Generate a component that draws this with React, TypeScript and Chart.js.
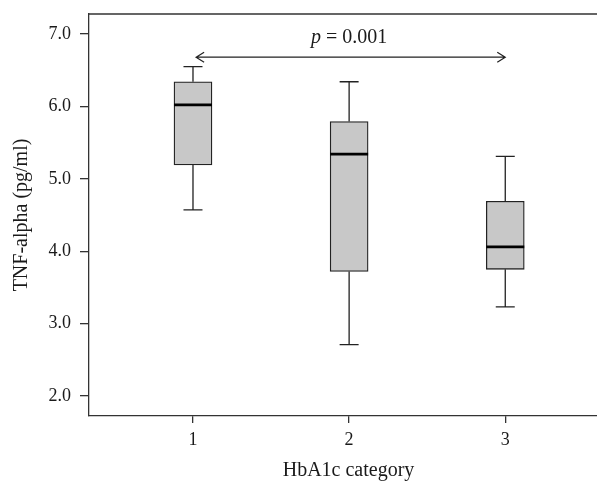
import React, { useEffect, useRef } from "react";
import { Chart, registerables } from "chart.js";

Chart.register(...registerables);

const categories = [1, 2, 3];
const whiskerLow = [4.57, 2.71, 3.23];
const q1 = [5.19, 3.72, 3.75];
const median = [6.02, 5.34, 4.06];
const q3 = [6.34, 5.79, 4.69];
const whiskerHigh = [6.55, 6.34, 5.31];
const yTicks = [2, 3, 4, 5, 6, 7];
const xTicks = [1, 2, 3];
const arrowFrom = 1.02;
const arrowTo = 3.0;
const arrowLevel = 6.68;
const pLabelX = 2.0;
const pValue = "0.001";

const FONT = "'Liberation Serif', 'Times New Roman', serif";
const INK = "#222222";

const boxPlugin = {
  id: "boxExtras",
  afterDatasetsDraw(chart: any) {
    const { ctx, chartArea, scales } = chart;
    const xs = scales.x;
    const ys = scales.y;
    const meta = chart.getDatasetMeta(0);
    ctx.save();
    ctx.strokeStyle = "#333333";
    ctx.lineWidth = 1.3;
    ctx.beginPath();
    ctx.moveTo(chartArea.left, chartArea.top);
    ctx.lineTo(chartArea.right, chartArea.top);
    ctx.lineTo(chartArea.right, chartArea.bottom);
    ctx.stroke();

    categories.forEach((c, i) => {
      const bar = meta.data[i];
      const w = bar ? bar.width : 38;
      const cx = xs.getPixelForValue(c);
      const cap = w / 4;
      ctx.strokeStyle = INK;
      ctx.lineWidth = 1.3;
      ctx.beginPath();
      ctx.moveTo(cx, ys.getPixelForValue(q3[i]));
      ctx.lineTo(cx, ys.getPixelForValue(whiskerHigh[i]));
      ctx.moveTo(cx - cap, ys.getPixelForValue(whiskerHigh[i]));
      ctx.lineTo(cx + cap, ys.getPixelForValue(whiskerHigh[i]));
      ctx.moveTo(cx, ys.getPixelForValue(q1[i]));
      ctx.lineTo(cx, ys.getPixelForValue(whiskerLow[i]));
      ctx.moveTo(cx - cap, ys.getPixelForValue(whiskerLow[i]));
      ctx.lineTo(cx + cap, ys.getPixelForValue(whiskerLow[i]));
      ctx.stroke();
      ctx.strokeStyle = "#000000";
      ctx.lineWidth = 2.8;
      ctx.beginPath();
      ctx.moveTo(cx - w / 2, ys.getPixelForValue(median[i]));
      ctx.lineTo(cx + w / 2, ys.getPixelForValue(median[i]));
      ctx.stroke();
    });

    const ay = ys.getPixelForValue(arrowLevel);
    const ax1 = xs.getPixelForValue(arrowFrom);
    const ax2 = xs.getPixelForValue(arrowTo);
    ctx.strokeStyle = INK;
    ctx.lineWidth = 1.2;
    ctx.beginPath();
    ctx.moveTo(ax1, ay);
    ctx.lineTo(ax2, ay);
    ctx.moveTo(ax1 + 8, ay - 5);
    ctx.lineTo(ax1, ay);
    ctx.lineTo(ax1 + 8, ay + 5);
    ctx.moveTo(ax2 - 8, ay - 5);
    ctx.lineTo(ax2, ay);
    ctx.lineTo(ax2 - 8, ay + 5);
    ctx.stroke();

    ctx.fillStyle = "#1a1a1a";
    ctx.textBaseline = "alphabetic";
    ctx.textAlign = "left";
    const italic = `italic 20px ${FONT}`;
    const normal = `20px ${FONT}`;
    const rest = ` = ${pValue}`;
    ctx.font = italic;
    const wp = ctx.measureText("p").width;
    ctx.font = normal;
    const wr = ctx.measureText(rest).width;
    const px = xs.getPixelForValue(pLabelX) - (wp + wr) / 2;
    const py = ay - 14;
    ctx.font = italic;
    ctx.fillText("p", px, py);
    ctx.font = normal;
    ctx.fillText(rest, px + wp, py);
    ctx.restore();
  },
};

export default function App() {
  const ref = useRef<HTMLCanvasElement>(null);
  useEffect(() => {
    if (!ref.current) return;
    const chart = new Chart(ref.current, {
      type: "bar",
      data: {
        datasets: [
          {
            data: categories.map((c, i) => ({ x: c, y: [q1[i], q3[i]] })) as any,
            backgroundColor: "#c8c8c8",
            borderColor: INK,
            borderWidth: 1.3,
            borderSkipped: false,
            barThickness: 38,
          },
        ],
      },
      options: {
        animation: false,
        responsive: false,
        layout: { padding: { top: 14, right: 2, left: 0, bottom: 0 } },
        plugins: { legend: { display: false }, tooltip: { enabled: false } },
        scales: {
          x: {
            type: "linear",
            offset: false,
            min: 0.334,
            max: 3.658,
            afterBuildTicks: (s: any) => {
              s.ticks = xTicks.map((v) => ({ value: v }));
            },
            afterFit: (s: any) => {
              s.height = 67;
              s.paddingLeft = 0;
              s.paddingRight = 0;
            },
            grid: { display: true, offset: false, drawOnChartArea: false, drawTicks: true, tickLength: 7, color: "#333333", lineWidth: 1.3 },
            border: { display: true, color: "#333333", width: 1.3 },
            ticks: { font: { family: FONT, size: 18 }, color: "#1a1a1a", padding: 6, callback: (v: any) => String(v) },
            title: { display: true, text: "HbA1c category", font: { family: FONT, size: 20 }, color: "#1a1a1a", padding: { top: 0, bottom: 0 } },
          },
          y: {
            type: "linear",
            min: 1.724,
            max: 7.276,
            afterBuildTicks: (s: any) => {
              s.ticks = yTicks.map((v) => ({ value: v }));
            },
            afterFit: (s: any) => {
              s.width = 89;
              s.paddingTop = 0;
              s.paddingBottom = 0;
            },
            grid: { display: true, drawOnChartArea: false, drawTicks: true, tickLength: 9, color: "#333333", lineWidth: 1.3 },
            border: { display: true, color: "#333333", width: 1.3 },
            ticks: { font: { family: FONT, size: 18 }, color: "#1a1a1a", padding: 9, callback: (v: any) => Number(v).toFixed(1) },
            title: { display: true, text: "TNF-alpha (pg/ml)", font: { family: FONT, size: 20 }, color: "#1a1a1a", padding: { top: 10, bottom: 0 } },
          },
        },
      },
      plugins: [boxPlugin],
    });
    return () => chart.destroy();
  }, []);
  return (
    <div style={{ position: "absolute", left: 0, top: 0, width: 597, height: 483, overflow: "hidden", background: "#fff" }}>
      <canvas ref={ref} width={610} height={483} style={{ display: "block", width: 610, height: 483 }} />
    </div>
  );
}
